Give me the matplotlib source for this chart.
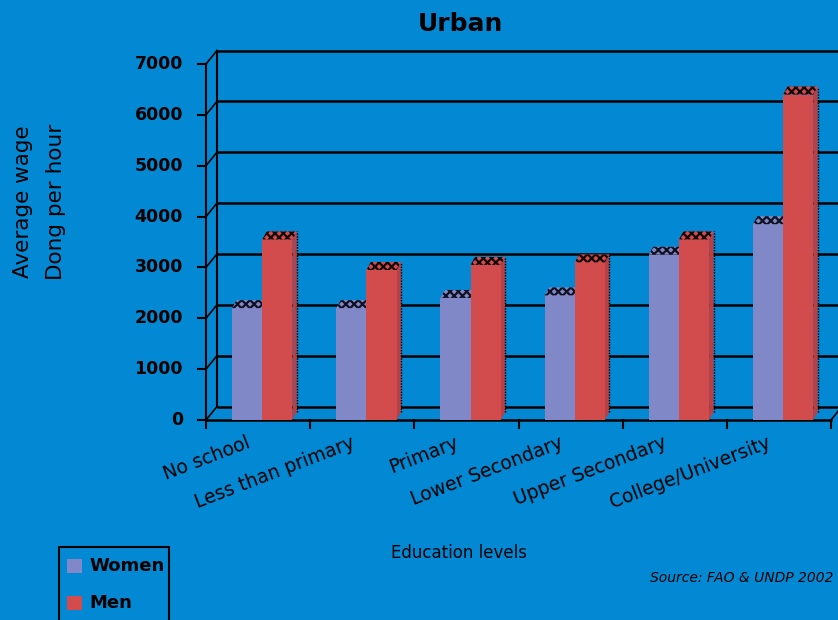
import matplotlib
matplotlib.use("Agg")
import matplotlib.pyplot as plt
from matplotlib.patches import Polygon, Rectangle

# ---- data ----
categories = ["No school", "Less than primary", "Primary", "Lower Secondary",
              "Upper Secondary", "College/University"]
women = [2200, 2200, 2400, 2450, 3250, 3850]
men = [3550, 2950, 3050, 3100, 3550, 6400]
yticks = [0, 1000, 2000, 3000, 4000, 5000, 6000, 7000]
series_names = ["Women", "Men"]
title = "Urban"

# ---- style ----
BG = "#0389D3"
C_W = "#8088C8"
C_M = "#D24C4E"
W, H = 838, 620
plt.rcParams["font.family"] = ["DejaVu Sans"]
plt.rcParams["hatch.linewidth"] = 1.6

fig = plt.figure(figsize=(W / 100, H / 100), dpi=100)
fig.patch.set_facecolor(BG)

x0, x1 = 206, 831
y0, y1 = 420, 64
ax = fig.add_axes([x0 / W, 1 - y0 / H, (x1 - x0) / W, (y0 - y1) / H])
ax.set_xlim(0, len(categories))
ax.set_ylim(0, 7000)
ax.axis("off")
ax.patch.set_alpha(0)

px_x = len(categories) / (x1 - x0)   # data units per pixel (x)
px_y = 7000 / (y0 - y1)               # data units per pixel (y)
dx, dy = 11 * px_x, 13.5 * px_y       # wall depth
bdx, bdy = 4.5 * px_x, 8 * px_y       # bar depth
n = len(categories)
xr = n + 0.3

# back wall gridlines
for v in yticks:
    ax.plot([dx, xr], [v + dy, v + dy], color="black", lw=1.8, clip_on=False, zorder=1,
            solid_capstyle="butt")
# back wall left edge
ax.plot([dx, dx], [dy, 7000 + dy], color="black", lw=1.5, clip_on=False, zorder=1)
# left front axis and diagonals
ax.plot([0, 0], [0, 7000], color="black", lw=1.5, clip_on=False, zorder=1)
for v in yticks:
    ax.plot([0, dx], [v, v + dy], color="black", lw=1.2, clip_on=False, zorder=1)
    ax.plot([-8 * px_x, 0], [v, v], color="black", lw=1.5, clip_on=False, zorder=1)
    ax.text(-23 * px_x, v, f"{v}", ha="right", va="center", fontsize=12.5,
            fontweight="bold", color="black")
# floor front line and ticks
ax.plot([0, n], [0, 0], color="black", lw=1.8, clip_on=False, zorder=1)
ax.plot([n, n + dx], [0, dy], color="black", lw=1.2, clip_on=False, zorder=1)
for i in range(n + 1):
    ax.plot([i, i], [0, -8 * px_y], color="black", lw=1.5, clip_on=False, zorder=1)

# bars
wl, wr, mr = 0.25, 0.54, 0.83
for i, (wv, mv) in enumerate(zip(women, men)):
    # women front
    ax.add_patch(Rectangle((i + wl, 0), wr - wl, wv, facecolor=C_W, edgecolor="none", zorder=3))
    ax.add_patch(Polygon([(i + wl, wv), (i + wr, wv), (i + wr + bdx, wv + bdy),
                          (i + wl + bdx, wv + bdy)], closed=True, facecolor=C_W,
                         edgecolor="#111122", hatch="xxxx", lw=0, zorder=3))
    # men side
    ax.add_patch(Polygon([(i + mr, 0), (i + mr + bdx, bdy), (i + mr + bdx, mv + bdy),
                          (i + mr, mv)], closed=True, facecolor="#B84044",
                         edgecolor="none", zorder=3))
    ax.plot([i + mr + bdx, i + mr + bdx], [bdy, mv + bdy], color="black", lw=1.0,
            ls=(0, (1, 1)), zorder=4)
    # men front
    ax.add_patch(Rectangle((i + wr, 0), mr - wr, mv, facecolor=C_M, edgecolor="none", zorder=4))
    ax.add_patch(Polygon([(i + wr, mv), (i + mr, mv), (i + mr + bdx, mv + bdy),
                          (i + wr + bdx, mv + bdy)], closed=True, facecolor=C_M,
                         edgecolor="#110808", hatch="xxxx", lw=0, zorder=4))

# category labels
for i, cat in enumerate(categories):
    ax.text(i + 0.5 - 12 * px_x, -13 * px_y, cat, rotation=21, rotation_mode="anchor",
            ha="right", va="top", fontsize=13.5, color="black")

# title and axis titles
fig.text(460 / W, 1 - 24 / H, title, ha="center", va="center", fontsize=18,
         fontweight="bold", color="black")
fig.text(23 / W, 1 - 202 / H, "Average wage", rotation=90, ha="center", va="center",
         fontsize=15.5, color="black")
fig.text(56 / W, 1 - 202 / H, "Dong per hour", rotation=90, ha="center", va="center",
         fontsize=15.5, color="black")
fig.text(459 / W, 1 - 553 / H, "Education levels", ha="center", va="center",
         fontsize=12, color="black")
fig.text(833 / W, 1 - 578 / H, "Source: FAO & UNDP 2002", ha="right", va="center",
         fontsize=10, fontstyle="italic", color="black")

# legend (manual, box runs off the bottom)
fig.patches.append(Rectangle((59 / W, -0.02), 110 / W, 0.02 + (620 - 547) / H,
                             transform=fig.transFigure, facecolor="none",
                             edgecolor="black", lw=1.5))
for name, col, yc in zip(series_names, [C_W, C_M], [566, 603]):
    fig.patches.append(Rectangle((67 / W, 1 - (yc + 7) / H), 15 / W, 14 / H,
                                 transform=fig.transFigure, facecolor=col,
                                 edgecolor="none"))
    fig.text(89 / W, 1 - yc / H, name, ha="left", va="center", fontsize=13,
             fontweight="bold", color="black")

fig.savefig("out.png", dpi=100, facecolor=BG)
